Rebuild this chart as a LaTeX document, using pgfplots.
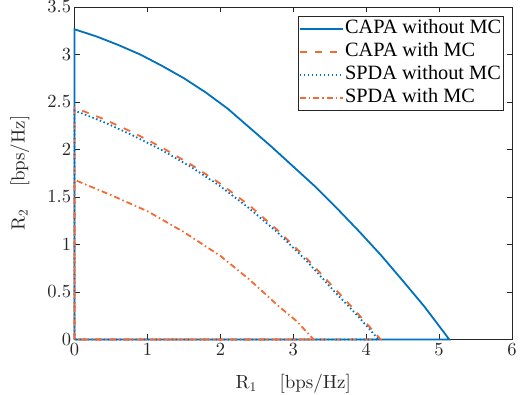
\documentclass[border=0pt]{standalone}
\usepackage[no-math]{fontspec}
\setmainfont{Liberation Serif}
\newfontfamily\lmten{lmroman10-regular.otf}
\newcommand\labfont{\lmten\fontsize{19}{21}\selectfont}
\usepackage{pgfplots}
\pgfplotsset{compat=1.18}
\definecolor{mblue}{RGB}{0,114,189}
\definecolor{morange}{RGB}{245,105,50}
\definecolor{axgray}{RGB}{38,38,38}
\begin{document}
\begin{tikzpicture}
\begin{axis}[
  scale only axis, width=437.4pt, height=332.5pt,
  xmin=0, xmax=6, ymin=0, ymax=3.5,
  clip=false,
  xtick={0,1,2,3,4,5,6}, ytick={0,0.5,1,1.5,2,2.5,3,3.5},
  tick align=inside, major tick length=5pt,
  axis line style={axgray, line width=0.6pt},
  every tick/.style={axgray, line width=0.6pt},
  /pgf/number format/assume math mode=true,
  tick label style={font=\lmten\fontsize{18.5}{21}\selectfont, text=axgray},
  xlabel={\labfont R\textsubscript{1}\hspace{1.2em}[bps/Hz]},
  ylabel={\labfont R\textsubscript{2}\hspace{1.2em}[bps/Hz]},
  xlabel style={at={(axis description cs:0.5,-0.132)}, anchor=center, text=axgray, font=\labfont},
  ylabel style={at={(axis description cs:-0.125,0.5)}, anchor=center, text=axgray, font=\labfont},
  legend cell align=left,
  legend style={at={(axis description cs:0.9817,0.973)}, anchor=north east,
    draw=axgray, line width=0.6pt, fill=white,
    font=\fontsize{20.3}{23}\selectfont, inner sep=1pt,
    nodes={inner sep=1.5pt, text height=14.5pt, text depth=5.5pt}, row sep=0pt},
  legend image code/.code={\draw[#1] (0pt,0pt) -- (43pt,0pt);},
]
\addplot[mblue, line width=1.8pt] coordinates {
 (0,0) (0,3.265) (0.3,3.19) (0.6,3.10) (0.9,3.00) (1.2,2.88) (1.5,2.75)
 (1.8,2.60) (2.1,2.43) (2.4,2.23) (2.7,2.03) (3.0,1.82) (3.3,1.61)
 (3.6,1.38) (3.9,1.14) (4.2,0.89) (4.5,0.62) (4.8,0.345) (5.14,0) (0,0)};
\addlegendentry{CAPA without MC}
\addplot[morange, line width=1.8pt, dash pattern=on 7pt off 8pt] coordinates {
 (0,0) (0,2.44) (0.4,2.32) (0.8,2.18) (1.2,2.02) (1.6,1.84) (2.0,1.64)
 (2.4,1.41) (2.8,1.14) (3.2,0.84) (3.6,0.51) (3.9,0.26) (4.2,0) (0,0)};
\addlegendentry{CAPA with MC}
\addplot[mblue, line width=1.8pt, dash pattern=on 1.5pt off 2.5pt] coordinates {
 (0,0) (0,2.41) (0.397,2.29) (0.794,2.15) (1.19,1.996) (1.59,1.82) (1.986,1.62)
 (2.38,1.39) (2.78,1.13) (3.18,0.83) (3.57,0.50) (3.87,0.26) (4.17,0) (0,0)};
\addlegendentry{SPDA without MC}
\addplot[morange, line width=1.8pt, dash pattern=on 6pt off 3pt on 1.5pt off 3pt] coordinates {
 (0,0) (0,1.68) (0.5,1.52) (1.0,1.35) (1.5,1.13) (2.0,0.88) (2.4,0.63)
 (2.8,0.35) (3.05,0.19) (3.28,0) (0,0)};
\addlegendentry{SPDA with MC}
\end{axis}
\pgfresetboundingbox
\path[use as bounding box] (current axis.south west) ++(-74.6pt,-55.5pt) rectangle ([xshift=9pt,yshift=7pt]current axis.north east);
\end{tikzpicture}
\end{document}
